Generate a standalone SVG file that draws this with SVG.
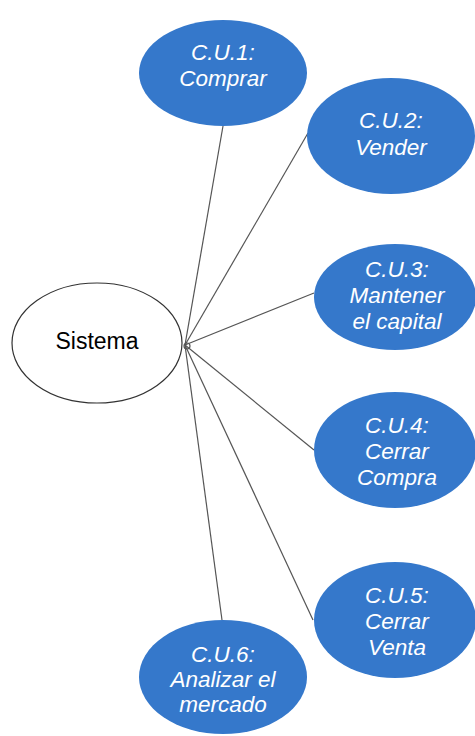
<svg xmlns="http://www.w3.org/2000/svg" width="475" height="736" viewBox="0 0 475 736">
<style>
.uc{fill:#3578cb;stroke:none}
.ut{font-family:"Liberation Sans",Arial,sans-serif;font-size:22.5px;font-style:italic;fill:#ffffff;text-anchor:middle}
.st{font-family:"Liberation Sans",Arial,sans-serif;font-size:23px;fill:#000000;text-anchor:middle}
.ln{stroke:#555555;stroke-width:1.2;fill:none}
</style>
<rect width="475" height="736" fill="#ffffff"/>
<g id="connectors">
<line class="ln" x1="185" y1="345" x2="223" y2="126"/>
<line class="ln" x1="185" y1="345" x2="308" y2="133"/>
<line class="ln" x1="185" y1="345" x2="314" y2="293"/>
<line class="ln" x1="185" y1="345" x2="314" y2="450"/>
<line class="ln" x1="185" y1="345" x2="313" y2="620"/>
<line class="ln" x1="185" y1="345" x2="222" y2="620"/>
<circle class="ln" cx="187" cy="346" r="3"/>
</g>
<g id="sistema">
<ellipse cx="97" cy="343" rx="85" ry="60" fill="#ffffff" stroke="#333333" stroke-width="1.2"/>
<text class="st" x="97" y="349">Sistema</text>
</g>
<g id="cu1">
<ellipse class="uc" cx="223" cy="73" rx="84" ry="53"/>
<text class="ut" x="223" y="60">C.U.1:</text>
<text class="ut" x="223" y="86">Comprar</text>
</g>
<g id="cu2">
<ellipse class="uc" cx="391" cy="136" rx="84" ry="58"/>
<text class="ut" x="391" y="128">C.U.2:</text>
<text class="ut" x="391" y="155">Vender</text>
</g>
<g id="cu3">
<ellipse class="uc" cx="395" cy="297" rx="81" ry="53"/>
<text class="ut" x="397" y="277">C.U.3:</text>
<text class="ut" x="397" y="303">Mantener</text>
<text class="ut" x="397" y="329">el capital</text>
</g>
<g id="cu4">
<ellipse class="uc" cx="395" cy="450" rx="81" ry="58"/>
<text class="ut" x="397" y="433">C.U.4:</text>
<text class="ut" x="397" y="459">Cerrar</text>
<text class="ut" x="397" y="485">Compra</text>
</g>
<g id="cu5">
<ellipse class="uc" cx="395" cy="620" rx="81" ry="58"/>
<text class="ut" x="397" y="603">C.U.5:</text>
<text class="ut" x="397" y="629">Cerrar</text>
<text class="ut" x="397" y="655">Venta</text>
</g>
<g id="cu6">
<ellipse class="uc" cx="223" cy="677" rx="84" ry="57"/>
<text class="ut" x="223" y="662">C.U.6:</text>
<text class="ut" x="223" y="687">Analizar el</text>
<text class="ut" x="223" y="712">mercado</text>
</g>
</svg>
